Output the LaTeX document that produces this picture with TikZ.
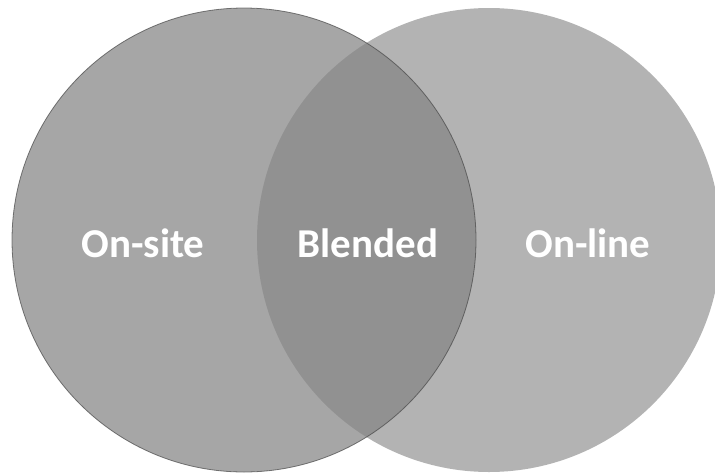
\documentclass[tikz,border=0pt]{standalone}
\usepackage{fontspec}
\setmainfont{Carlito}
\begin{document}
\begin{tikzpicture}[x=1pt,y=-1pt,
  venn/.style={circle,minimum size=464pt,inner sep=0pt},
  lbl/.style={text=white,font=\fontsize{41}{48}\selectfont\bfseries,inner sep=0pt}]
\useasboundingbox (0,0) rectangle (715,474);
\node[venn,fill={rgb,255:red,179;green,179;blue,179}] (online) at (489,240) {};
\node[venn,fill={rgb,255:red,132;green,132;blue,132},fill opacity=0.72,
      draw={rgb,255:red,70;green,70;blue,70},draw opacity=0.7,line width=0.8pt] (onsite) at (244,240) {};
\node[lbl] (t1) at (143,243) {On-site};
\node[lbl] (t2) at (368,243) {Blended};
\node[lbl] (t3) at (588,243) {On-line};
\end{tikzpicture}
\end{document}
